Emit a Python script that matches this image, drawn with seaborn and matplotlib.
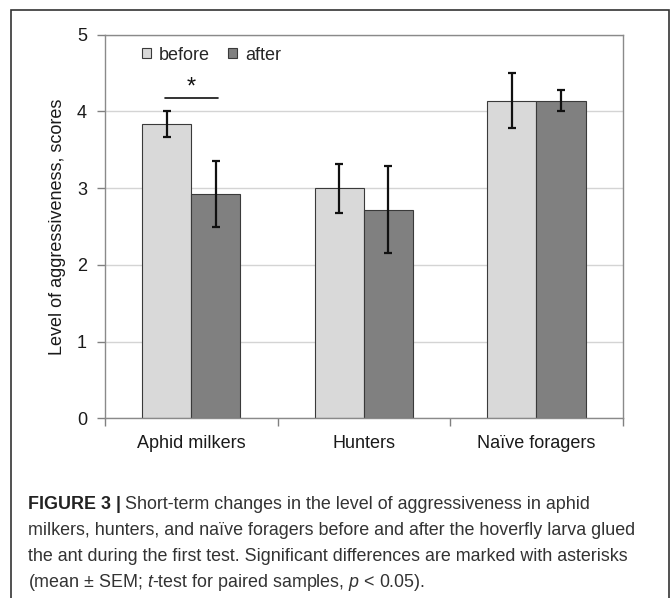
import numpy as np
import pandas as pd
import matplotlib
matplotlib.use("Agg")
from matplotlib import pyplot as plt
from matplotlib.patches import Rectangle
import seaborn as sns

groups = ["Aphid milkers", "Hunters", "Naïve foragers"]
conditions = ["before", "after"]
before_mean = [3.84, 3.00, 4.14]
after_mean = [2.92, 2.72, 4.14]
before_sem = [0.17, 0.32, 0.36]
after_sem = [0.43, 0.57, 0.14]
y_ticks = [0, 1, 2, 3, 4, 5]
sig_height = 4.17

caption_lines = [
    "Short-term changes in the level of aggressiveness in aphid",
    "milkers, hunters, and naïve foragers before and after the hoverfly larva glued",
    "the ant during the first test. Significant differences are marked with asterisks",
    "(mean ± SEM; $t$-test for paired samples, $p$ < 0.05).",
]

sns.set_style("ticks")
plt.rcParams['font.family'] = ['Liberation Sans', 'DejaVu Sans']
plt.rcParams['mathtext.fontset'] = 'custom'
plt.rcParams['mathtext.rm'] = 'Liberation Sans'
plt.rcParams['mathtext.it'] = 'Liberation Sans:italic'
plt.rcParams['mathtext.bf'] = 'Liberation Sans:bold'

df = pd.DataFrame({
    'group': groups * 2,
    'condition': ['before'] * 3 + ['after'] * 3,
    'score': before_mean + after_mean,
    'sem': before_sem + after_sem,
})

fig = plt.figure(figsize=(6.7, 5.98), dpi=100)
ax = fig.add_axes([0.1567, 0.3005, 0.7727, 0.6415])

sns.barplot(data=df, x='group', y='score', hue='condition', order=groups,
            hue_order=conditions,
            palette={'before': '#d9d9d9', 'after': '#808080'},
            width=0.57, gap=0, edgecolor='#3a3a3a', linewidth=0.8,
            errorbar=None, ax=ax)

bar_sets = list(ax.containers)
centres = [[b.get_x() + b.get_width() / 2 for b in cont] for cont in bar_sets]

# error bars (mean +- SEM) on the bar centres
for cond, xs in zip(conditions, centres):
    sub = df[df['condition'] == cond].set_index('group').loc[groups]
    ax.errorbar(xs, sub['score'], yerr=sub['sem'], fmt='none', ecolor='#111111',
                elinewidth=1.6, capsize=2.7, capthick=1.6, zorder=5)

# significance marker for aphid milkers
xb = [centres[0][0], centres[1][0]]
ax.plot([xb[0] - 0.01, xb[1] + 0.01], [sig_height, sig_height], color='#111111', lw=1.2)
ax.text(np.mean(xb), sig_height + 0.06, '*', ha='center', va='baseline', fontsize=17,
        color='#111111')

ax.set_ylim(0, 5)
ax.set_yticks(y_ticks)
ax.set_xlim(-0.5, 2.5)
ax.set_xticks([-0.5, 0.5, 1.5, 2.5])
ax.set_xticklabels([])
ax.set_xticks([0, 1, 2], minor=True)
ax.set_xticklabels(groups, minor=True)
ax.tick_params(axis='x', which='major', length=6, width=1, color='#808080', direction='out')
ax.tick_params(axis='x', which='minor', length=0, pad=12, labelsize=13, labelcolor='#1a1a1a')
ax.tick_params(axis='y', length=6, width=1, color='#808080', direction='out', pad=7,
               labelsize=13, labelcolor='#1a1a1a')
ax.yaxis.grid(True, color='#d4d4d4', lw=1)
ax.set_axisbelow(True)
for s in ax.spines.values():
    s.set_visible(True)
    s.set_color('#8a8a8a')
    s.set_linewidth(1)

ax.set_xlabel('')
ax.set_ylabel('Level of aggressiveness, scores', fontsize=13, color='#1a1a1a')
ax.yaxis.set_label_coords(-0.075, 0.5)

ax.legend(loc='center left', bbox_to_anchor=(0.071, 0.947), ncol=2, frameon=False,
          borderpad=0, borderaxespad=0, handlelength=0.5, handleheight=0.5,
          handletextpad=0.45, columnspacing=1.0, fontsize=13)

# outer frame
fig.patches.append(Rectangle((11 / 670, -0.02), 658 / 670, 1.02 - 10 / 598,
                             transform=fig.transFigure, fill=False,
                             edgecolor='#333333', lw=1.2))

# caption
cap_color = '#333333'
cap_size = 12.9
cap_x = 28 / 670
baselines = [509, 535, 561, 587]
head = fig.text(cap_x, 1 - baselines[0] / 598, 'FIGURE 3 |', fontsize=cap_size,
                fontweight='bold', color='#222222', va='baseline')
fig.canvas.draw()
bb = head.get_window_extent(fig.canvas.get_renderer())
fig.text((bb.x1 + 4) / 670, 1 - baselines[0] / 598, caption_lines[0], fontsize=cap_size,
         color=cap_color, va='baseline')
for line, yb in zip(caption_lines[1:], baselines[1:]):
    fig.text(cap_x, 1 - yb / 598, line, fontsize=cap_size, color=cap_color, va='baseline')

plt.savefig('out.png', dpi=100)
plt.close()
